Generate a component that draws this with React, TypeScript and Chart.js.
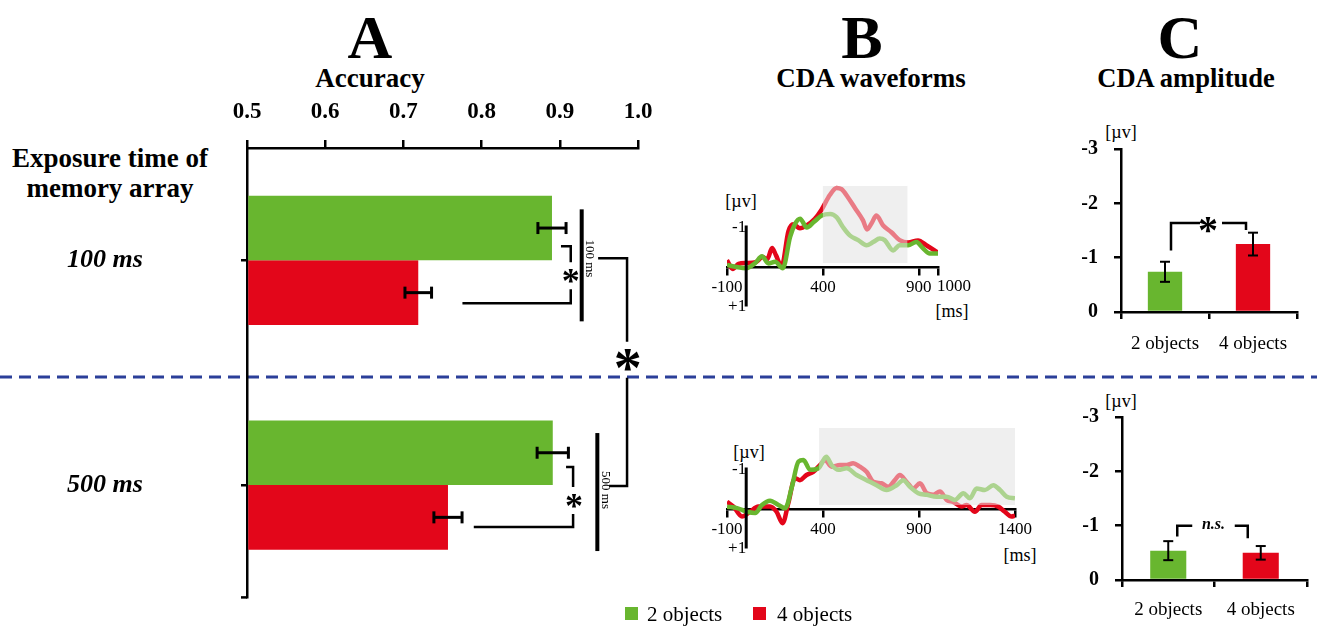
import React, { useEffect, useRef } from 'react';
import { Chart, registerables } from 'chart.js';
Chart.register(...registerables);

const SERIF = "'Liberation Serif', 'Times New Roman', serif";
const GREEN = '#68b62f';
const RED = '#e3061a';
Chart.defaults.font.family = SERIF;
Chart.defaults.color = '#000';

// ---------- Panel A: accuracy ----------
const exposureLabels = ['100 ms', '500 ms'];
const accuracyTicks = [0.5, 0.6, 0.7, 0.8, 0.9, 1.0];
const acc2 = [0.89, 0.891];
const acc2Err = [0.018, 0.02];
const acc4 = [0.719, 0.757];
const acc4Err = [0.017, 0.018];
const seriesLabels = ['2 objects', '4 objects'];

// ---------- Panel B: CDA waveforms (µV, negative up) ----------
const waveTicks100 = [-100, 400, 900, 1000];
const waveTicks500 = [-100, 400, 900, 1400];
const waveYTicks = [-1, 1];
const t100_2 = [-100, -50, 0, 47, 82, 116, 151, 191, 229, 255, 281, 316, 351, 394, 438, 471, 506, 540, 584, 627, 662, 696, 722, 766, 800, 844, 887, 922, 957, 1000];
const v100_2 = [-0.05, 0.0, 0.03, -0.1, -0.27, -0.09, -0.13, 0.03, -0.76, -1.09, -1.22, -1.0, -1.13, -1.3, -1.34, -1.26, -1.0, -0.8, -0.68, -0.55, -0.63, -0.72, -0.68, -0.42, -0.55, -0.55, -0.63, -0.47, -0.34, -0.34];
const t100_4 = [-100, -70, -40, 0, 50, 85, 110, 135, 155, 185, 220, 245, 280, 315, 358, 393, 436, 471, 497, 531, 566, 609, 630, 653, 679, 714, 757, 800, 844, 896, 939, 1000];
const v100_4 = [-0.17, 0.05, -0.08, -0.1, -0.12, -0.25, -0.2, -0.48, -0.3, -0.02, -0.9, -1.08, -0.98, -1.05, -1.22, -1.45, -1.82, -2.0, -1.97, -1.76, -1.5, -1.18, -0.95, -1.1, -1.3, -1.05, -0.88, -0.68, -0.62, -0.67, -0.55, -0.36];
const t500_2 = [-100, -48, 4, 47, 82, 124, 168, 203, 238, 272, 298, 333, 377, 417, 445, 480, 523, 575, 627, 679, 731, 783, 818, 853, 896, 940, 992, 1044, 1087, 1131, 1165, 1200, 1243, 1287, 1322, 1357, 1400];
const v500_2 = [-0.06, -0.02, 0.07, 0.1, -0.1, -0.21, -0.1, -0.02, -0.56, -1.2, -1.24, -0.99, -1.03, -1.32, -1.11, -0.99, -1.03, -0.86, -0.73, -0.6, -0.48, -0.6, -0.73, -0.56, -0.4, -0.36, -0.31, -0.31, -0.23, -0.4, -0.27, -0.52, -0.48, -0.6, -0.48, -0.31, -0.27];
const t500_4 = [-100, -66, -22, 19, 63, 124, 158, 190, 219, 254, 280, 314, 349, 384, 410, 445, 488, 523, 557, 592, 627, 662, 705, 740, 774, 800, 835, 870, 905, 940, 974, 1009, 1044, 1078, 1122, 1148, 1191, 1226, 1270, 1313, 1347, 1382, 1400];
const v500_4 = [-0.18, -0.06, 0.19, 0.07, -0.06, -0.06, 0.07, 0.36, -0.14, -0.78, -0.73, -0.86, -0.94, -1.11, -1.24, -1.07, -1.11, -1.11, -1.16, -1.07, -0.94, -0.69, -0.65, -0.56, -0.73, -0.86, -0.69, -0.52, -0.65, -0.4, -0.36, -0.44, -0.23, -0.18, -0.06, -0.1, 0.07, -0.1, -0.1, -0.06, 0.07, 0.19, 0.17];
const window100 = [400, 840];
const window500 = [380, 1400];

// ---------- Panel C: CDA amplitude ----------
const objectLabels = ['2 objects', '4 objects'];
const ampTicks = [-3, -2, -1, 0];
const amp100 = [-0.74, -1.25];
const amp100Err = [0.185, 0.21];
const amp500 = [-0.54, -0.5];
const amp500Err = [0.175, 0.125];

function drawStar(ctx: CanvasRenderingContext2D, x: number, y: number, size: number) {
  ctx.save();
  ctx.fillStyle = '#000';
  ctx.font = `bold ${size}px ${SERIF}`;
  ctx.textAlign = 'center';
  ctx.textBaseline = 'alphabetic';
  const m = ctx.measureText('*');
  ctx.fillText('*', x, y + (m.actualBoundingBoxAscent - m.actualBoundingBoxDescent) / 2);
  ctx.restore();
}

function poly(ctx: CanvasRenderingContext2D, pts: number[][], w: number) {
  ctx.save();
  ctx.strokeStyle = '#000';
  ctx.lineWidth = w;
  ctx.lineJoin = 'miter';
  ctx.beginPath();
  pts.forEach((p, i) => (i === 0 ? ctx.moveTo(p[0], p[1]) : ctx.lineTo(p[0], p[1])));
  ctx.stroke();
  ctx.restore();
}

const accPlugin = {
  id: 'accDeco',
  afterDraw(chart: any) {
    const { ctx, scales, chartArea } = chart;
    const xs = scales.x, ys = scales.y;
    const X = (v: number) => xs.getPixelForValue(v);
    const errs = [acc2Err, acc4Err];
    chart.data.datasets.forEach((ds: any, i: number) => {
      const meta = chart.getDatasetMeta(i);
      meta.data.forEach((bar: any, j: number) => {
        const v = ds.data[j], e = errs[i][j];
        const y = bar.y, a = X(v - e), b = X(v + e);
        poly(ctx, [[a, y], [b, y]], 3);
        poly(ctx, [[a, y - 6], [a, y + 6]], 3);
        poly(ctx, [[b, y - 6], [b, y + 6]], 3);
      });
    });
    poly(ctx, [[chartArea.left - 6, chartArea.bottom], [chartArea.left, chartArea.bottom]], 2.5);
    const cy = ys.getPixelForValue(0);
    const cy2 = ys.getPixelForValue(1);
    const mid = (cy + cy2) / 2;
    // 100 ms comparison
    poly(ctx, [[X(0.9015), cy - 14], [X(0.914), cy - 14], [X(0.914), cy + 2]], 2.5);
    drawStar(ctx, X(0.914), cy + 16, 36);
    poly(ctx, [[X(0.914), cy + 29], [X(0.914), cy + 43], [X(0.7755), cy + 43]], 2.5);
    poly(ctx, [[X(0.928), cy - 51], [X(0.928), cy + 61]], 4);
    // 500 ms comparison
    poly(ctx, [[X(0.908), cy2 - 18], [X(0.917), cy2 - 18], [X(0.917), cy2 + 2]], 2.5);
    drawStar(ctx, X(0.918), cy2 + 16, 36);
    poly(ctx, [[X(0.917), cy2 + 29], [X(0.917), cy2 + 42], [X(0.79), cy2 + 42]], 2.5);
    poly(ctx, [[X(0.948), cy2 - 52], [X(0.948), cy2 + 66]], 4);
    [[X(0.938), cy - 2, 0], [X(0.958), cy2 + 5, 1]].forEach(([x, y, k]) => {
      ctx.save();
      ctx.translate(x, y);
      ctx.rotate(Math.PI / 2);
      ctx.fillStyle = '#000';
      ctx.font = `13px ${SERIF}`;
      ctx.textAlign = 'center';
      ctx.textBaseline = 'middle';
      ctx.fillText(exposureLabels[k], 0, 0);
      ctx.restore();
    });
    // between exposure times
    poly(ctx, [[X(0.949), cy - 2], [X(0.986), cy - 2], [X(0.986), mid - 31]], 2.5);
    drawStar(ctx, X(0.987), mid - 13, 56);
    poly(ctx, [[X(0.986), mid + 5], [X(0.986), cy2 + 1], [X(0.963), cy2 + 1]], 2.5);
  },
};

function accConfig(): any {
  return {
    type: 'bar',
    data: {
      labels: exposureLabels,
      datasets: [
        { label: seriesLabels[0], data: acc2, backgroundColor: GREEN, base: 0.5, categoryPercentage: 0.575, barPercentage: 1 },
        { label: seriesLabels[1], data: acc4, backgroundColor: RED, base: 0.5, categoryPercentage: 0.575, barPercentage: 1 },
      ],
    },
    options: {
      indexAxis: 'y',
      responsive: false,
      animation: false,
      devicePixelRatio: 1,
      layout: { padding: { left: 0, right: 52, top: 0, bottom: 15 } },
      plugins: { legend: { display: false }, tooltip: { enabled: false } },
      scales: {
        x: {
          type: 'linear', position: 'top', min: 0.5, max: 1.0,
          afterBuildTicks: (s: any) => { s.ticks = accuracyTicks.map((v) => ({ value: v })); },
          afterFit: (s: any) => { s.height = 58; },
          ticks: { callback: (v: any) => Number(v).toFixed(1), font: { family: SERIF, size: 23, weight: 'bold' }, color: '#000', padding: 14, maxRotation: 0, autoSkip: false },
          grid: { drawOnChartArea: false, tickLength: 8, color: '#000', lineWidth: 2.5 },
          border: { color: '#000', width: 2.5 },
        },
        y: {
          type: 'category', position: 'left',
          afterFit: (s: any) => { s.width = 180; },
          ticks: { font: { family: SERIF, size: 26, weight: 'bold', style: 'italic' }, color: '#000', padding: 2, crossAlign: 'far' },
          grid: { drawOnChartArea: false, tickLength: 6, color: '#000', lineWidth: 2.5, offset: false },
          border: { color: '#000', width: 2.5 },
        },
      },
    },
    plugins: [accPlugin],
  };
}

function wavePlugin(win: number[], startAlignLast: boolean) {
  const rect = (chart: any, color: string) => {
    const { ctx, scales } = chart;
    const x0 = scales.x.getPixelForValue(win[0]);
    const x1 = scales.x.getPixelForValue(win[1]);
    const y0 = scales.y.getPixelForValue(-2.05);
    const y1 = scales.y.getPixelForValue(-0.1);
    ctx.save();
    ctx.fillStyle = color;
    ctx.fillRect(x0, y0, x1 - x0, y1 - y0);
    ctx.restore();
  };
  return {
    id: 'waveDeco',
    beforeDatasetsDraw(chart: any) { rect(chart, '#efefef'); },
    afterDatasetsDraw(chart: any) {
      rect(chart, 'rgba(239,239,239,0.5)');
      const { ctx, scales } = chart;
      const x = scales.x.getPixelForValue(0);
      poly(ctx, [[x, scales.y.getPixelForValue(-1.05)], [x, scales.y.getPixelForValue(1)]], 3);
      if (startAlignLast) {
        const ticks = scales.x.ticks;
        const last = ticks[ticks.length - 1].value;
        ctx.save();
        ctx.fillStyle = '#000';
        ctx.font = `17px ${SERIF}`;
        ctx.textAlign = 'left';
        ctx.textBaseline = 'middle';
        ctx.fillText(String(last), scales.x.getPixelForValue(last) - 1, scales.y.getPixelForValue(0) + 20);
        ctx.restore();
      }
    },
  };
}

function waveConfig(t2: number[], v2: number[], t4: number[], v4: number[], xmax: number, ticks: number[], win: number[], padding: any, startAlignLast: boolean): any {
  const line = (t: number[], v: number[], color: string, label: string) => ({
    label,
    data: t.map((x, i) => ({ x, y: v[i] })),
    borderColor: color,
    borderWidth: 4.5,
    pointRadius: 0,
    cubicInterpolationMode: 'monotone',
    fill: false,
  });
  return {
    type: 'line',
    data: { datasets: [line(t2, v2, GREEN, seriesLabels[0]), line(t4, v4, RED, seriesLabels[1])] },
    options: {
      responsive: false,
      animation: false,
      devicePixelRatio: 1,
      layout: { padding },
      plugins: { legend: { display: false }, tooltip: { enabled: false } },
      scales: {
        x: {
          type: 'linear', position: { y: 0 }, min: -100, max: xmax,
          afterBuildTicks: (s: any) => { s.ticks = ticks.map((v) => ({ value: v })); },
          ticks: {
            callback: (v: any, i: number) => (startAlignLast && i === ticks.length - 1 ? '' : String(v)),
            font: { family: SERIF, size: 17 }, color: '#000', padding: 3, maxRotation: 0, autoSkip: false,
          },
          grid: { drawOnChartArea: false, tickLength: 7, color: '#000', lineWidth: 2.5 },
          border: { color: '#000', width: 2.5, dash: [9, 6] },
        },
        y: {
          type: 'linear', position: { x: 0 }, min: -2.1, max: 1, reverse: true,
          afterBuildTicks: (s: any) => { s.ticks = waveYTicks.map((v) => ({ value: v })); },
          ticks: { callback: (v: any) => (v > 0 ? '+' + v : String(v)), font: { family: SERIF, size: 17 }, color: '#000', padding: 0 },
          grid: { display: true, drawOnChartArea: false, drawTicks: true, tickLength: 8, color: 'rgba(0,0,0,0)' },
          border: { display: false },
        },
      },
    },
    plugins: [wavePlugin(win, startAlignLast)],
  };
}

function ampPlugin(errs: number[], kind: 'star' | 'ns') {
  return {
    id: 'ampDeco',
    afterDraw(chart: any) {
      const { ctx, scales } = chart;
      const ys = scales.y;
      const Y = (v: number) => ys.getPixelForValue(v);
      const ds = chart.data.datasets[0];
      const bars = chart.getDatasetMeta(0).data;
      bars.forEach((bar: any, j: number) => {
        const v = ds.data[j], e = errs[j];
        const x = bar.x, a = Y(v - e), b = Y(v + e);
        poly(ctx, [[x, a], [x, b]], 2);
        poly(ctx, [[x - 5, a], [x + 5, a]], 2);
        poly(ctx, [[x - 5, b], [x + 5, b]], 2);
      });
      const g = bars[0].x, r = bars[1].x;
      if (kind === 'star') {
        poly(ctx, [[g + 6, Y(-1.13)], [g + 6, Y(-1.64)], [g + 35, Y(-1.64)]], 2.5);
        poly(ctx, [[r - 31, Y(-1.64)], [r - 7, Y(-1.64)], [r - 7, Y(-1.51)]], 2.5);
        drawStar(ctx, (g + r) / 2 - 1, Y(-1.6), 40);
      } else {
        poly(ctx, [[g + 9, Y(-0.8)], [g + 9, Y(-1.0)], [g + 24, Y(-1.0)]], 2.5);
        poly(ctx, [[r - 26, Y(-1.0)], [r - 13, Y(-1.0)], [r - 13, Y(-0.77)]], 2.5);
        ctx.save();
        ctx.fillStyle = '#000';
        ctx.font = `italic bold 16px ${SERIF}`;
        ctx.textAlign = 'center';
        ctx.textBaseline = 'middle';
        ctx.fillText('n.s.', (g + r) / 2 - 1, Y(-1.0) - 1);
        ctx.restore();
      }
    },
  };
}

function ampConfig(values: number[], errs: number[], kind: 'star' | 'ns', padding: any, yWidth: number, labelPad: number): any {
  return {
    type: 'bar',
    data: {
      labels: objectLabels,
      datasets: [{ data: values, backgroundColor: [GREEN, RED], barPercentage: 0.39, categoryPercentage: 1 }],
    },
    options: {
      responsive: false,
      animation: false,
      devicePixelRatio: 1,
      layout: { padding },
      plugins: { legend: { display: false }, tooltip: { enabled: false } },
      scales: {
        x: {
          type: 'category',
          afterFit: (s: any) => { s.height = 50; },
          ticks: { font: { family: SERIF, size: 19 }, color: '#000', padding: labelPad },
          grid: { drawOnChartArea: false, tickLength: 7, color: '#000', lineWidth: 2.5, offset: true },
          border: { color: '#000', width: 2.5 },
        },
        y: {
          type: 'linear', min: -3, max: 0, reverse: true,
          afterBuildTicks: (s: any) => { s.ticks = ampTicks.map((v) => ({ value: v })); },
          afterFit: (s: any) => { s.width = yWidth; },
          ticks: { callback: (v: any) => String(v), font: { family: SERIF, size: 20, weight: 'bold' }, color: '#000', padding: 16 },
          grid: { drawOnChartArea: false, tickLength: 7, color: '#000', lineWidth: 2.5 },
          border: { color: '#000', width: 2.5 },
        },
      },
    },
    plugins: [ampPlugin(errs, kind)],
  };
}

function ChartBox({ left, top, width, height, make }: { left: number; top: number; width: number; height: number; make: () => any }) {
  const ref = useRef<HTMLCanvasElement>(null);
  useEffect(() => {
    const chart = new Chart(ref.current as HTMLCanvasElement, make());
    return () => chart.destroy();
  }, []);
  return <canvas ref={ref} width={width} height={height} style={{ position: 'absolute', left, top, width, height }} />;
}

function Txt({ x, y, size, bold, italic, children }: any) {
  return (
    <div
      style={{
        position: 'absolute', left: x, top: y, transform: 'translate(-50%, -50%)',
        fontSize: size, lineHeight: 1, whiteSpace: 'nowrap', fontFamily: SERIF,
        fontWeight: bold ? 'bold' : 'normal', fontStyle: italic ? 'italic' : 'normal', color: '#000', textAlign: 'center',
      }}
    >
      {children}
    </div>
  );
}

export default function App() {
  return (
    <div style={{ position: 'absolute', left: 0, top: 0, width: 1317, height: 626, background: '#fff', overflow: 'hidden' }}>
      <svg width={1317} height={626} style={{ position: 'absolute', left: 0, top: 0 }}>
        <line x1={0} y1={377} x2={1317} y2={377} stroke="#2b3f99" strokeWidth={3} strokeDasharray="12 7" />
      </svg>
      <Txt x={370} y={37} size={62} bold>A</Txt>
      <Txt x={862} y={37} size={62} bold>B</Txt>
      <Txt x={1180} y={37} size={62} bold>C</Txt>
      <Txt x={370} y={78} size={27} bold>Accuracy</Txt>
      <Txt x={871} y={78} size={27} bold>CDA waveforms</Txt>
      <Txt x={1186} y={78} size={26.5} bold>CDA amplitude</Txt>
      <Txt x={110} y={158} size={27} bold>Exposure time of</Txt>
      <Txt x={110} y={188} size={27} bold>memory array</Txt>
      <Txt x={741} y={201} size={18}>[µv]</Txt>
      <Txt x={952} y={311} size={18}>[ms]</Txt>
      <Txt x={749} y={452} size={18}>[µv]</Txt>
      <Txt x={1020} y={555} size={18}>[ms]</Txt>
      <Txt x={1121} y={132} size={18}>[µv]</Txt>
      <Txt x={1121} y={401} size={18}>[µv]</Txt>

      <ChartBox left={67} top={90} width={623} height={525} make={accConfig} />
      <ChartBox left={680} top={170} width={300} height={150}
        make={() => waveConfig(t100_2, v100_2, t100_4, v100_4, 1000, waveTicks100, window100, { left: 47, right: 42, top: 14, bottom: 13.5 }, true)} />
      <ChartBox left={680} top={410} width={360} height={150}
        make={() => waveConfig(t500_2, v500_2, t500_4, v500_4, 1400, waveTicks500, window500, { left: 47, right: 25, top: 16, bottom: 11.5 }, false)} />
      <ChartBox left={1040} top={100} width={277} height={262}
        make={() => ampConfig(amp100, amp100Err, 'star', { left: 0, right: 20, top: 49, bottom: 0 }, 81, 14)} />
      <ChartBox left={1040} top={370} width={277} height={260}
        make={() => ampConfig(amp500, amp500Err, 'ns', { left: 0, right: 10, top: 47, bottom: 0 }, 82, 12)} />

      <div style={{ position: 'absolute', left: 625, top: 607, width: 13, height: 13, background: GREEN }} />
      <div style={{ position: 'absolute', left: 647, top: 614, transform: 'translateY(-50%)', fontFamily: SERIF, fontSize: 21, lineHeight: 1, whiteSpace: 'nowrap' }}>{seriesLabels[0]}</div>
      <div style={{ position: 'absolute', left: 753, top: 607, width: 13, height: 13, background: RED }} />
      <div style={{ position: 'absolute', left: 777, top: 614, transform: 'translateY(-50%)', fontFamily: SERIF, fontSize: 21, lineHeight: 1, whiteSpace: 'nowrap' }}>{seriesLabels[1]}</div>
    </div>
  );
}
